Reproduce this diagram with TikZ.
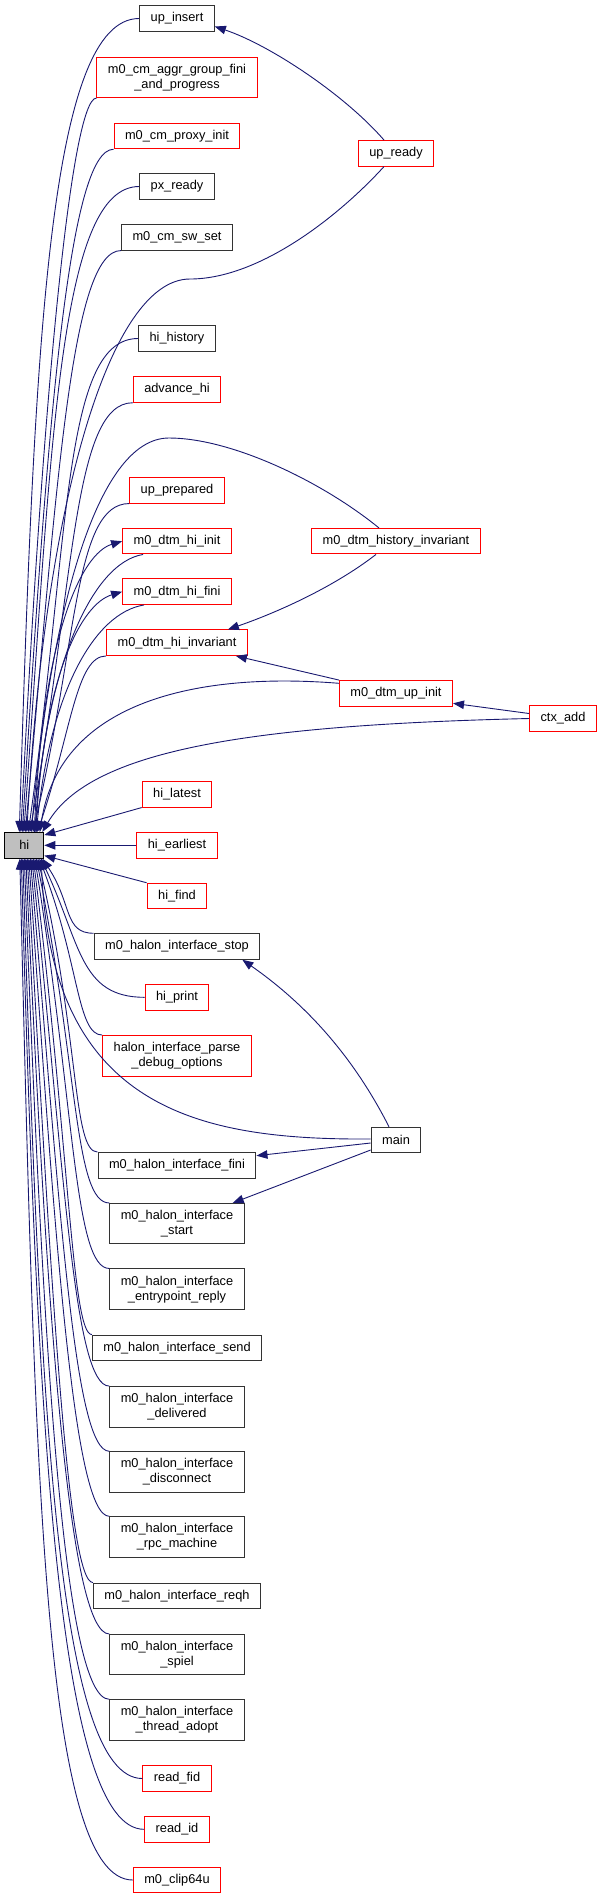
\documentclass[tikz,border=0pt]{standalone}
\usepackage{fontspec}
\setmainfont{Liberation Sans}
\usetikzlibrary{arrows.meta, calc}
\definecolor{edgeblue}{HTML}{191970}
\definecolor{boxred}{HTML}{FF0000}
\tikzset{
    fn/.style={rectangle, draw=black!80, line width=1pt, fill=white, align=center,
               font=\fontsize{12.8}{15}\selectfont, inner xsep=11pt, inner ysep=2pt,
               minimum height=25.5pt},
    trunc/.style={fn, draw=boxred},
    focus/.style={fn, draw=black, fill=black!25, minimum width=39pt},
    tall/.style={minimum height=40.5pt},
    call/.style={draw=edgeblue, line width=0.9pt, -{Triangle[length=11pt, width=8.5pt]}},
}

\begin{document}
\begin{tikzpicture}[x=1pt, y=-1pt]

    \useasboundingbox (0,0) rectangle (603,1899);

    % The function itself
    \node[focus] at (24.3, 845.3) (hi) {hi};

    % Callers above (left column)
    \node[fn]          at (177, 18.5)  (upinsert)   {up\_insert};
    \node[trunc, tall] at (177, 77.3)  (aggr)       {m0\_cm\_aggr\_group\_fini\\\_and\_progress};
    \node[trunc]       at (177, 136)   (proxyinit)  {m0\_cm\_proxy\_init};
    \node[fn]          at (177, 186.5) (pxready)    {px\_ready};
    \node[fn]          at (177, 237.3) (swset)      {m0\_cm\_sw\_set};
    \node[fn]          at (177, 338.5) (hihistory)  {hi\_history};
    \node[trunc]       at (177, 389.5) (advancehi)  {advance\_hi};
    \node[trunc]       at (177, 490.3) (upprepared) {up\_prepared};
    \node[trunc]       at (177, 541.2) (dtmhiinit)  {m0\_dtm\_hi\_init};
    \node[trunc]       at (177, 591.7) (dtmhifini)  {m0\_dtm\_hi\_fini};
    \node[trunc]       at (177, 642.7) (dtmhiinv)   {m0\_dtm\_hi\_invariant};

    % Callers level with hi
    \node[trunc] at (177, 794.3) (hilatest)   {hi\_latest};
    \node[trunc] at (177, 845.3) (hiearliest) {hi\_earliest};
    \node[trunc] at (177, 896)   (hifind)     {hi\_find};

    % Callers below (left column)
    \node[fn]          at (177, 946.5)  (hstop)       {m0\_halon\_interface\_stop};
    \node[trunc]       at (177, 997.3)  (hiprint)     {hi\_print};
    \node[trunc, tall] at (177, 1055.8) (parsedebug)  {halon\_interface\_parse\\\_debug\_options};
    \node[fn]          at (177, 1165.3) (hfini)       {m0\_halon\_interface\_fini};
    \node[fn, tall]    at (177, 1223.7) (hstart)      {m0\_halon\_interface\\\_start};
    \node[fn, tall]    at (177, 1289.2) (hentry)      {m0\_halon\_interface\\\_entrypoint\_reply};
    \node[fn]          at (177, 1347.8) (hsend)       {m0\_halon\_interface\_send};
    \node[fn, tall]    at (177, 1406.8) (hdelivered)  {m0\_halon\_interface\\\_delivered};
    \node[fn, tall]    at (177, 1472)   (hdisconnect) {m0\_halon\_interface\\\_disconnect};
    \node[fn, tall]    at (177, 1537)   (hrpc)        {m0\_halon\_interface\\\_rpc\_machine};
    \node[fn]          at (177, 1595.8) (hreqh)       {m0\_halon\_interface\_reqh};
    \node[fn, tall]    at (177, 1654.7) (hspiel)      {m0\_halon\_interface\\\_spiel};
    \node[fn, tall]    at (177, 1720)   (hadopt)      {m0\_halon\_interface\\\_thread\_adopt};
    \node[trunc]       at (177, 1778.5) (readfid)     {read\_fid};
    \node[trunc]       at (177, 1829.3) (readid)      {read\_id};
    \node[trunc]       at (177, 1880)   (clip)        {m0\_clip64u};

    % Second level callers
    \node[trunc] at (396, 153.3) (upready)   {up\_ready};
    \node[trunc] at (396, 541.2) (histinv)   {m0\_dtm\_history\_invariant};
    \node[trunc] at (396, 693.3) (dtmupinit) {m0\_dtm\_up\_init};
    \node[fn]    at (396, 1140)  (main)      {main};
    \node[trunc] at (563, 718.5) (ctxadd)    {ctx\_add};

    % Calls into hi from above
    \foreach \src/\ex/\dx/\cx/\cy in {upinsert.west/15/-90/15/490,
            aggr.south west/16.5/-25/22/440, proxyinit.south west/18/-45/25/410,
            pxready.west/19.5/-80/28/390, swset.south west/21/-50/32/350,
            hihistory.west/24/-75/42/300, advancehi.south west/25.5/-60/45/250,
            upprepared.south west/28.5/-55/45/190, dtmhiinv.south west/33/-30/34/100}
        \draw[call] (\src) .. controls +(\dx,0) and +(\cx,-\cy) .. ($(hi.north west)+(\ex,0)$);

    % Calls into hi from below
    \foreach \src/\ex/\dx/\cx/\cy in {hstop.north west/38/-30/30/45,
            hiprint.west/36.5/-65/40/85, parsedebug.north west/35/-25/40/105,
            hfini.north west/33.5/-25/42/180, hstart.north west/32/-35/42/210,
            hentry.north west/30.5/-35/40/250, hsend.north west/29/-20/36/290,
            hdelivered.north west/27.5/-35/33/320, hdisconnect.north west/26/-35/30/355,
            hrpc.north west/24.5/-35/27/395, hreqh.north west/23/-25/24/435,
            hspiel.north west/21.5/-40/21/465, hadopt.north west/20/-45/19/505,
            readfid.west/18.5/-85/17/550, readid.west/17/-85/16/580, clip.west/15.5/-90/15/610}
        \draw[call] (\src) .. controls +(\dx,0) and +(\cx,\cy) .. ($(hi.south west)+(\ex,0)$);

    % Level with hi
    \draw[call] (hilatest.south west) -- ($(hi.north east)+(0,3)$);
    \draw[call] (hiearliest.west) -- (hi.east);
    \draw[call] (hifind.north west) -- ($(hi.south east)+(0,-3)$);

    % Mutual calls with hi
    \draw[call] ($(hi.north west)+(30,0)$) .. controls +(8,-200) and +(-40,12) .. (dtmhiinit.west);
    \draw[call] ($(dtmhiinit.south west)+(21,0)$) .. controls +(-50,8) and +(12,-170) .. ($(hi.north west)+(30.5,0)$);
    \draw[call] ($(hi.north west)+(31.5,0)$) .. controls +(8,-160) and +(-40,12) .. (dtmhifini.west);
    \draw[call] ($(dtmhifini.south west)+(22,0)$) .. controls +(-50,8) and +(14,-140) .. ($(hi.north west)+(32,0)$);

    % up_ready
    \draw[call] ($(upready.north)+(-12,0)$) .. controls (345,95) and (270,45) .. ($(upinsert.east)+(0,8)$);
    \draw[call] ($(upready.south)+(-12,0)$) .. controls (340,215) and (260,279) .. (190,279)
        .. controls (110,279) and (45,500) .. ($(hi.north west)+(22.5,0)$);

    % m0_dtm_history_invariant
    \draw[call] ($(histinv.north)+(-17,0)$) .. controls (320,480) and (230,438) .. (169,438)
        .. controls (95,438) and (50,620) .. ($(hi.north west)+(27,0)$);
    \draw[call] ($(histinv.south)+(-20,0)$) .. controls (330,590) and (270,615) .. ($(dtmhiinv.north east)+(-20,0)$);

    % m0_dtm_up_init
    \draw[call] (dtmupinit.north west) -- ($(dtmhiinv.south east)+(-12,0)$);
    \draw[call] ($(dtmupinit.west)+(0,-10)$) .. controls (200,672) and (60,700) .. ($(hi.north west)+(35.5,0)$);

    % ctx_add
    \draw[call] ($(ctxadd.west)+(0,-5)$) -- ($(dtmupinit.east)+(0,10)$);
    \draw[call] (ctxadd.west) .. controls (250,725) and (90,750) .. ($(hi.north west)+(38,0)$);

    % main
    \draw[call] ($(main.north)+(-7,0)$) .. controls (350,1050) and (300,1000) .. ($(hstop.south east)+(-18,0)$);
    \draw[call] ($(main.west)+(0,3)$) -- ($(hfini.east)+(0,-9.6)$);
    \draw[call] ($(main.west)+(0,10)$) -- ($(hstart.north east)+(-12,0)$);
    \draw[call] ($(main.west)+(0,-1)$) .. controls (200,1140) and (50,1110) .. ($(hi.south west)+(37,0)$);

\end{tikzpicture}
\end{document}
